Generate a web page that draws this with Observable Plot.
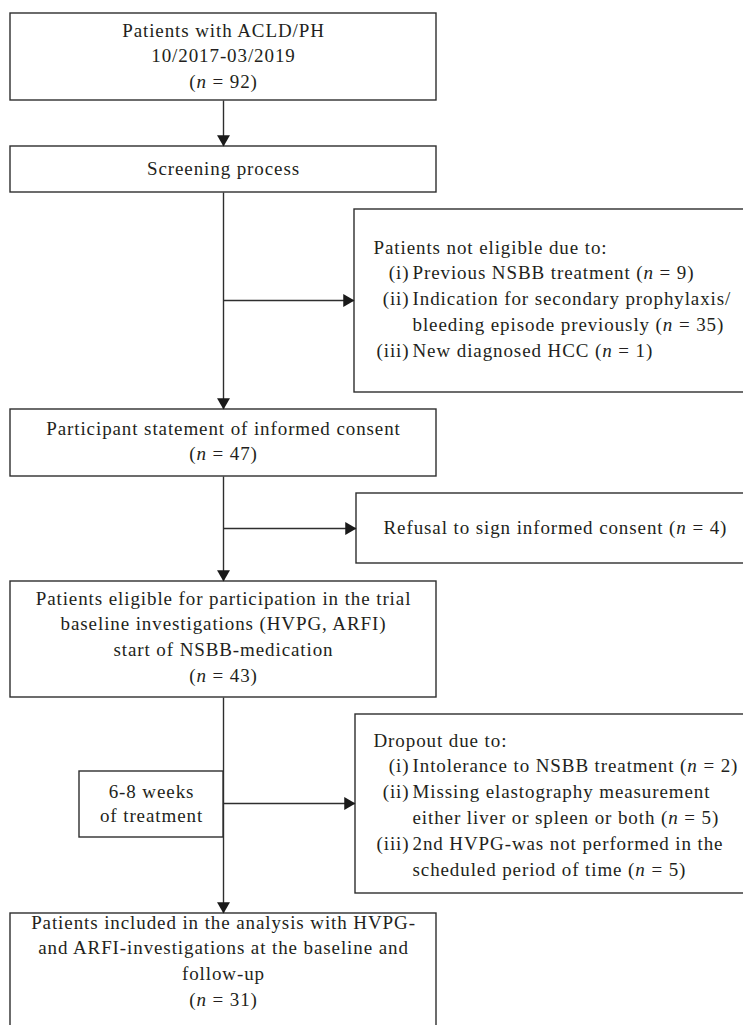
<!DOCTYPE html>
<html>
<head>
<meta charset="utf-8">
<script src="https://cdn.jsdelivr.net/npm/d3@7"></script>
<script src="https://cdn.jsdelivr.net/npm/@observablehq/plot@0.6"></script>
<style>
  html, body { margin: 0; padding: 0; background: #fff; overflow: hidden; }
  #chart svg { display: block; }
  #chart text { letter-spacing: 0.9px; }
</style>
</head>
<body>
<div id="chart"></div>
<script>
// ---------------- DATA (text content of the flowchart) ----------------
const mainSteps = [
  ["Patients with ACLD/PH", "10/2017-03/2019"],
  ["Screening process"],
  ["Participant statement of informed consent"],
  ["Patients eligible for participation in the trial", "baseline investigations (HVPG, ARFI)", "start of NSBB-medication"],
  ["Patients included in the analysis with HVPG-", "and ARFI-investigations at the baseline and", "follow-up"]
];
const mainCounts = [92, null, 47, 43, 31];

const notEligibleHeader = "Patients not eligible due to:";
const notEligibleLabels = ["(i)", "(ii)", "(iii)"];
const notEligibleReasons = [
  ["Previous NSBB treatment"],
  ["Indication for secondary prophylaxis/", "bleeding episode previously"],
  ["New diagnosed HCC"]
];
const notEligibleCounts = [9, 35, 1];

const refusalText = "Refusal to sign informed consent";
const refusalCount = 4;

const treatmentText = ["6-8 weeks", "of treatment"];

const dropoutHeader = "Dropout due to:";
const dropoutLabels = ["(i)", "(ii)", "(iii)"];
const dropoutReasons = [
  ["Intolerance to NSBB treatment"],
  ["Missing elastography measurement", "either liver or spleen or both"],
  ["2nd HVPG-was not performed in the", "scheduled period of time"]
];
const dropoutCounts = [2, 5, 5];

// ---------------- LAYOUT ----------------
const W = 743, H = 1025;
const CX = 223, ML = 10, MR = 436;
const GAP = 25.8;
const FONT = "Liberation Serif";
const FS = 19;
const INK = "#231f20", LINE = "#2e2e2e";

const mainBoxY = [[13, 100], [146, 192], [409, 476], [581, 697], [913, 1040]];
const mainFirstLine = [30, 168, 428, 598, 922];

const nc = n => `(n = ${n})`;

const boxes = [];
const texts = [];

mainSteps.forEach((lines, i) => {
  boxes.push({x1: ML, x2: MR, y1: mainBoxY[i][0], y2: mainBoxY[i][1]});
  const all = mainCounts[i] == null ? lines : [...lines, nc(mainCounts[i])];
  all.forEach((t, k) => texts.push({x: CX, y: mainFirstLine[i] + k * GAP, t, a: "middle"}));
});

// side boxes
const SX1 = 354, SX2 = 746;
boxes.push({x1: SX1, x2: SX2, y1: 209, y2: 392});
boxes.push({x1: 356, x2: SX2, y1: 493, y2: 563});
boxes.push({x1: 355, x2: SX2, y1: 714, y2: 893});
boxes.push({x1: 79, x2: CX, y1: 771, y2: 837});

function listBlock(header, labels, reasons, counts, x0, y0) {
  texts.push({x: x0, y: y0, t: header, a: "start"});
  let y = y0 + GAP;
  reasons.forEach((lines, i) => {
    texts.push({x: 409, y, t: labels[i], a: "end"});
    lines.forEach((l, k) => {
      const last = k === lines.length - 1;
      texts.push({x: 412, y, t: last ? `${l} ${nc(counts[i])}` : l, a: "start"});
      y += GAP;
    });
  });
}
listBlock(notEligibleHeader, notEligibleLabels, notEligibleReasons, notEligibleCounts, 373, 247);
listBlock(dropoutHeader, dropoutLabels, dropoutReasons, dropoutCounts, 373, 740);
texts.push({x: 383, y: 527, t: `${refusalText} ${nc(refusalCount)}`, a: "start"});
treatmentText.forEach((t, k) => texts.push({x: 151, y: 791 + k * 24.5, t, a: "middle"}));

// connectors
const segs = [
  {x1: CX, y1: 100, x2: CX, y2: 146, dir: "down"},
  {x1: CX, y1: 192, x2: CX, y2: 409, dir: "down"},
  {x1: CX, y1: 476, x2: CX, y2: 581, dir: "down"},
  {x1: CX, y1: 697, x2: CX, y2: 913, dir: "down"},
  {x1: CX, y1: 300, x2: SX1, y2: 300, dir: "right"},
  {x1: CX, y1: 528, x2: 356, y2: 528, dir: "right"},
  {x1: CX, y1: 803, x2: 355, y2: 803, dir: "right"}
];
const TIP = 7.5; // centroid-to-apex distance of the triangle head
const heads = segs.map(s => ({
  x: s.dir === "right" ? s.x2 - TIP : s.x2,
  y: s.dir === "down" ? s.y2 - TIP : s.y2,
  rot: s.dir === "down" ? 180 : 90
}));

const chart = Plot.plot({
  width: W, height: H,
  margin: 0,
  x: {domain: [0, W], range: [0, W], axis: null},
  y: {domain: [0, H], range: [0, H], axis: null},
  style: {fontFamily: FONT, background: "#fff"},
  marks: [
    Plot.link(segs, {x1: "x1", y1: "y1", x2: "x2", y2: "y2", stroke: LINE, strokeWidth: 1.4}),
    Plot.rect(boxes, {x1: "x1", x2: "x2", y1: "y1", y2: "y2", fill: "#fff", stroke: LINE, strokeWidth: 1.4}),
    Plot.dot(heads, {x: "x", y: "y", symbol: "triangle", r: 4.8, rotate: "rot", fill: "#1a1a1a", stroke: "none"}),
    Plot.text(texts.filter(d => d.a === "middle"), {x: "x", y: "y", text: "t", textAnchor: "middle", fontSize: FS, fill: INK, fontFamily: FONT}),
    Plot.text(texts.filter(d => d.a === "start"), {x: "x", y: "y", text: "t", textAnchor: "start", fontSize: FS, fill: INK, fontFamily: FONT}),
    Plot.text(texts.filter(d => d.a === "end"), {x: "x", y: "y", text: "t", textAnchor: "end", fontSize: FS, fill: INK, fontFamily: FONT})
  ]
});

// italicise the "n" in "(n = ...)"
chart.querySelectorAll("text").forEach(el => {
  if (el.children.length) return;
  const s = el.textContent;
  const idx = s.indexOf("(n = ");
  if (idx < 0) return;
  el.textContent = "";
  el.appendChild(document.createTextNode(s.slice(0, idx + 1)));
  const ts = document.createElementNS("http://www.w3.org/2000/svg", "tspan");
  ts.setAttribute("font-style", "italic");
  ts.textContent = "n";
  el.appendChild(ts);
  el.appendChild(document.createTextNode(s.slice(idx + 2)));
});

document.getElementById("chart").appendChild(chart);
</script>
</body>
</html>
